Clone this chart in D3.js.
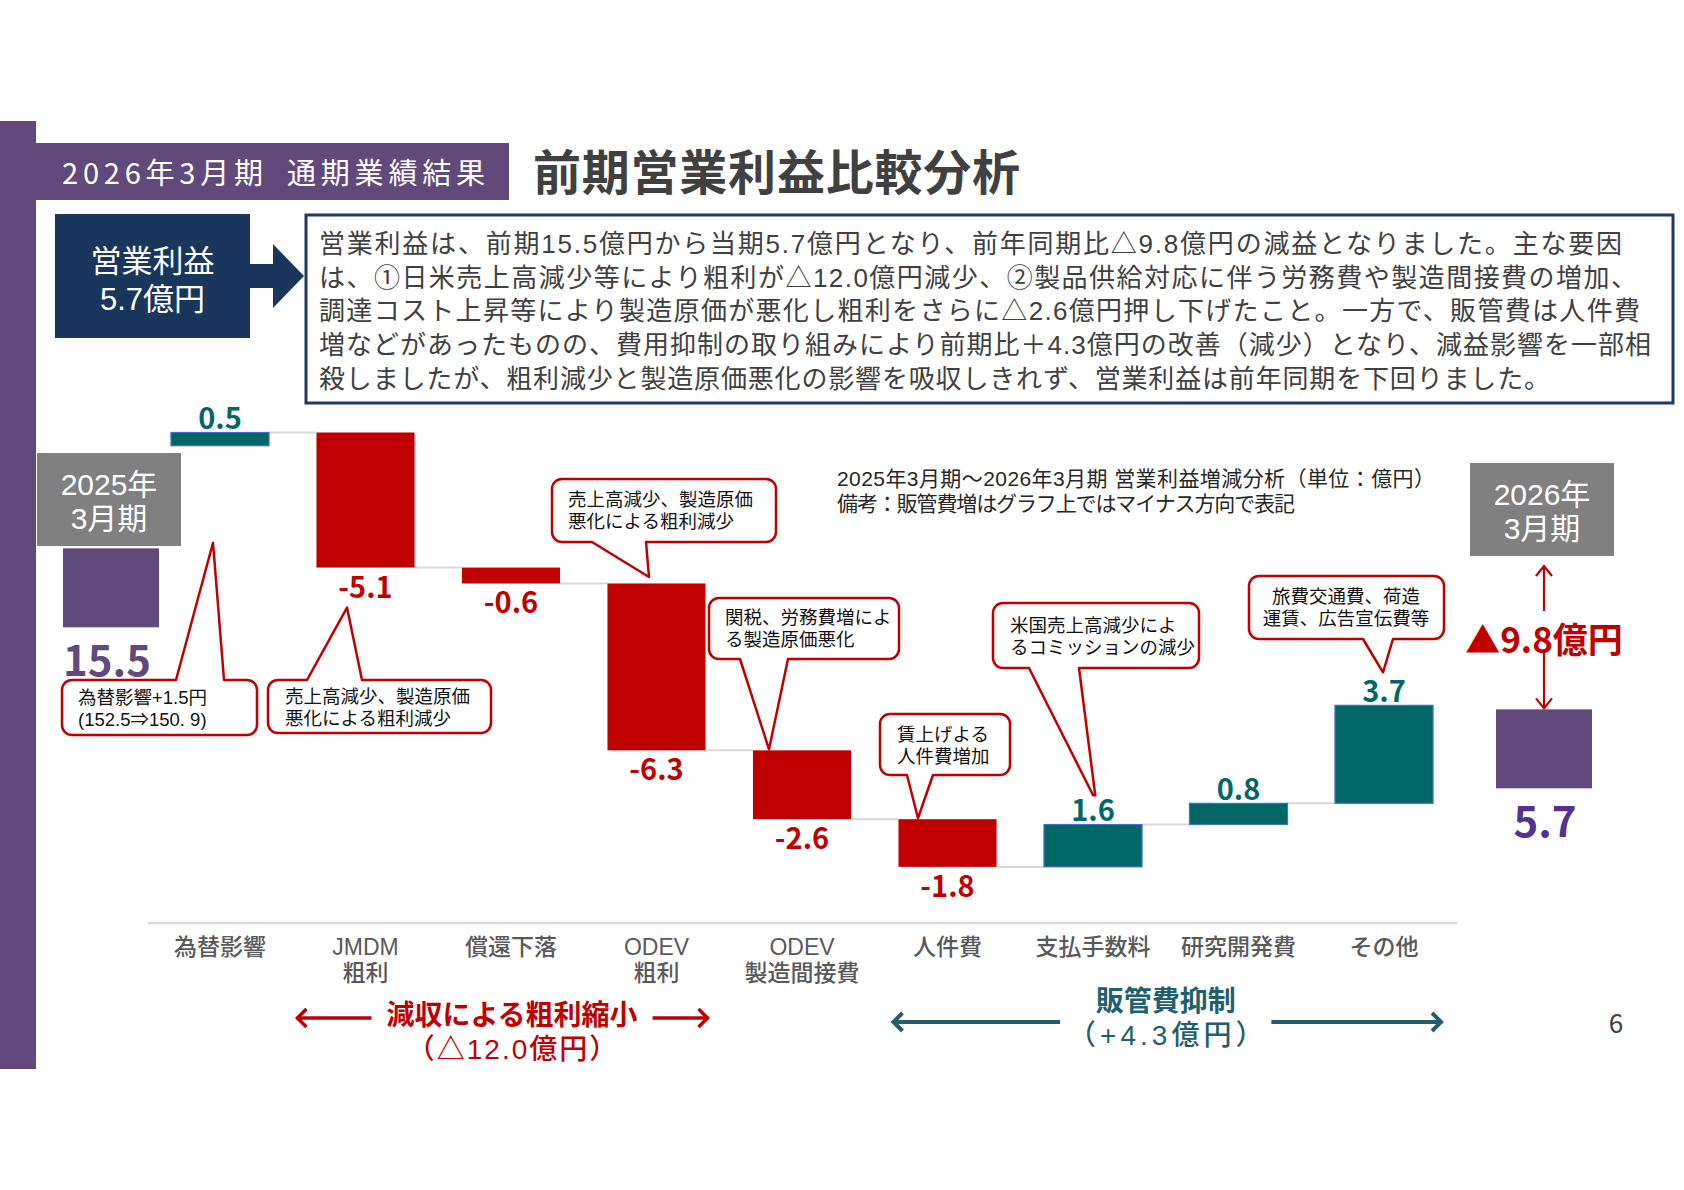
<!DOCTYPE html>
<html lang="ja"><head><meta charset="utf-8">
<script src="https://cdn.jsdelivr.net/npm/d3@7/dist/d3.min.js"></script>
<style>
html,body{margin:0;padding:0;background:#fff;}
svg{display:block;}
text{font-family:'Noto Sans CJK JP','Noto Sans',sans-serif;}
text.ml{font-family:'Liberation Sans','Noto Sans CJK JP',sans-serif;}
</style></head>
<body>
<svg id="chart" width="1684" height="1190" viewBox="0 0 1684 1190"></svg>
<script>
// ---------------- data ----------------
const categories = ["為替影響","JMDM\n粗利","償還下落","ODEV\n粗利","ODEV\n製造間接費","人件費","支払手数料","研究開発費","その他"];
const deltas = [0.5, -5.1, -0.6, -6.3, -2.6, -1.8, 1.6, 0.8, 3.7];
const grossGroup = ["JMDM\n粗利","償還下落","ODEV\n粗利"];
const sgaGroup = ["人件費","支払手数料","研究開発費","その他"];
const totalNames = ["2025年\n3月期","2026年\n3月期"];
const totalValues = [15.5, 5.7];
const headerTag = "2026年3月期\u2002通期業績結果";
const pageTitle = "前期営業利益比較分析";
const kpiLines = ["営業利益","5.7億円"];
const summaryLines = [
  "営業利益は、前期15.5億円から当期5.7億円となり、前年同期比△9.8億円の減益となりました。主な要因",
  "は、①日米売上高減少等により粗利が△12.0億円減少、②製品供給対応に伴う労務費や製造間接費の増加、",
  "調達コスト上昇等により製造原価が悪化し粗利をさらに△2.6億円押し下げたこと。一方で、販管費は人件費",
  "増などがあったものの、費用抑制の取り組みにより前期比＋4.3億円の改善（減少）となり、減益影響を一部相",
  "殺しましたが、粗利減少と製造原価悪化の影響を吸収しきれず、営業利益は前年同期を下回りました。"
];
const noteLines = ["2025年3月期～2026年3月期 営業利益増減分析（単位：億円）","備考：販管費増はグラフ上ではマイナス方向で表記"];
const calloutTexts = [
  ["為替影響+1.5円","(152.5⇒150. 9)"],
  ["売上高減少、製造原価","悪化による粗利減少"],
  ["売上高減少、製造原価","悪化による粗利減少"],
  ["関税、労務費増によ","る製造原価悪化"],
  ["賃上げよる","人件費増加"],
  ["米国売上高減少によ","るコミッションの減少"],
  ["旅費交通費、荷造","運賃、広告宣伝費等"]
];
const grossCaption = "減収による粗利縮小";
const sgaCaption = "販管費抑制";
const pageNumber = "6";

// ---------------- layout / style ----------------
const PURPLE = "#604A7B", NAVY = "#1B365D", RED = "#C00000", TEAL = "#006666",
      DTEAL = "#215F6E", GBOX = "#808080";
const fmt = d3.formatLocale({decimal:".", thousands:",", grouping:[3], currency:["",""], minus:"-"}).format(".1f");

const svg = d3.select("#chart");

// left strip + header
svg.append("rect").attr("x",0).attr("y",121).attr("width",36).attr("height",948).attr("fill",PURPLE);
svg.append("rect").attr("x",36).attr("y",143).attr("width",473).attr("height",57).attr("fill",PURPLE);
svg.append("text").attr("x",62).attr("y",184).attr("font-size",29).attr("fill","#fff")
  .attr("textLength",423).attr("lengthAdjust","spacing").text(headerTag);
svg.append("text").attr("x",533).attr("y",190).attr("font-size",48).attr("font-weight",700).attr("fill","#404040")
  .attr("textLength",487).attr("lengthAdjust","spacing").text(pageTitle);

// KPI box + arrow
svg.append("rect").attr("x",55).attr("y",214).attr("width",195).attr("height",124).attr("fill",NAVY);
svg.append("polygon").attr("points",[[250,264],[273,264],[273,244],[304,276],[273,308],[273,288],[250,288]].join(" ")).attr("fill",NAVY);
kpiLines.forEach((t,i)=>svg.append("text").attr("class","ml").attr("x",152.5).attr("y",272+i*38).attr("text-anchor","middle")
  .attr("font-size",31).attr("fill","#fff").text(t));

// summary box
svg.append("rect").attr("x",306).attr("y",215).attr("width",1367).attr("height",188)
  .attr("fill","#fff").attr("stroke","#1F3864").attr("stroke-width",3);
const sumWidths = [1303,1318,1321,1332,1231];
summaryLines.forEach((t,i)=>svg.append("text").attr("class","ml").attr("x",319).attr("y",253+i*33.7).attr("font-size",26)
  .attr("fill","#404040").attr("textLength",sumWidths[i]).attr("lengthAdjust","spacing").text(t));

// note
const noteWidths = [598,458];
noteLines.forEach((t,i)=>svg.append("text").attr("class","ml").attr("x",837).attr("y",486+i*24.5).attr("font-size",21)
  .attr("fill","#262626").attr("textLength",noteWidths[i]).attr("lengthAdjust","spacing").text(t));

// ---------------- scales ----------------
const x = d3.scaleBand().domain(categories).range([147.25,1456.75]).paddingInner(0.326).paddingOuter(0.163);
const bw = x.bandwidth();
const y = d3.scaleLinear().domain([-2.5,17]).range([922.5,406]);
// totals are drawn on a broken axis (stub bars)
const xTot = d3.scaleOrdinal().domain(totalNames).range([111,1544]);
const yTot = d3.scaleLinear().domain([0,20]).range([803,474.4]);
const totBarW = 96, totStub = 79;

let level = totalValues[0];
const steps = categories.map((c,i)=>{const from=level; level+=deltas[i]; return {cat:c, value:deltas[i], from, to:level};});

const g = svg.append("g");

// axis (baseline only) + category labels, one text per line
const axisY = y.range()[0];
const axis = d3.axisBottom(x).tickSize(0).tickFormat("");
const ag = g.append("g").attr("transform",`translate(0,${axisY})`).call(axis);
ag.select(".domain").attr("stroke","#D9D9D9").attr("stroke-width",2.5);
ag.selectAll(".tick text").remove();
const catLines = categories.flatMap(c=>c.split("\n").map((l,i)=>({cat:c, line:l, i})));
g.selectAll("text.cat").data(catLines).join("text").attr("class","cat ml")
  .attr("x",d=>x(d.cat)+bw/2).attr("y",d=>axisY+32.5+d.i*25.8)
  .attr("text-anchor","middle").attr("font-size",23).attr("font-weight",500).attr("fill","#595959")
  .text(d=>d.line);

// connectors
g.selectAll("line.conn").data(steps.slice(0,-1)).join("line")
  .attr("x1",d=>x(d.cat)+bw).attr("x2",(d,i)=>x(steps[i+1].cat))
  .attr("y1",d=>y(d.to)).attr("y2",d=>y(d.to))
  .attr("stroke","#D9D9D9").attr("stroke-width",2);

// bars
g.selectAll("rect.bar").data(steps).join("rect")
  .attr("x",d=>x(d.cat)).attr("width",bw)
  .attr("y",d=>y(Math.max(d.from,d.to))).attr("height",d=>Math.abs(y(d.from)-y(d.to)))
  .attr("fill",d=>d.value>=0?TEAL:RED)
  .attr("stroke",d=>d.value>=0?"#4472C4":"none").attr("stroke-width",1.2);

// totals
const totals = totalNames.map((n,i)=>({name:n, value:totalValues[i]}));
g.selectAll("rect.tot").data(totals).join("rect")
  .attr("x",d=>xTot(d.name)-totBarW/2).attr("width",totBarW)
  .attr("y",d=>yTot(d.value)).attr("height",totStub).attr("fill",PURPLE);
const totColors = [PURPLE,"#58308F"];
g.selectAll("text.totv").data(totals).join("text")
  .attr("x",(d,i)=>xTot(d.name)+(i?1:-4)).attr("y",d=>yTot(d.value)+totStub+49)
  .attr("text-anchor","middle").attr("font-size",42).attr("font-weight",700)
  .attr("fill",(d,i)=>totColors[i]).text(d=>fmt(d.value));
// period boxes
const boxTop = [453,463];
totals.forEach((d,i)=>{
  const cx = xTot(d.name)-2;
  g.append("rect").attr("x",cx-72).attr("y",boxTop[i]).attr("width",144).attr("height",93).attr("fill",GBOX);
  d.name.split("\n").forEach((l,j)=>g.append("text").attr("class","ml").attr("x",cx).attr("y",boxTop[i]+42+j*34)
    .attr("text-anchor","middle").attr("font-size",30).attr("fill","#fff").text(l));
});

// difference arrow
{
  const ax = xTot(totalNames[1]);
  const top = boxTop[1]+93+10, bot = yTot(totalValues[1])-1;
  const a = g.append("g").attr("stroke",RED).attr("stroke-width",2.2).attr("fill","none");
  a.append("line").attr("x1",ax).attr("x2",ax).attr("y1",top).attr("y2",top+45);
  a.append("path").attr("d",`M${ax-8},${top+10}L${ax},${top}L${ax+8},${top+10}`);
  a.append("line").attr("x1",ax).attr("x2",ax).attr("y1",bot-58).attr("y2",bot);
  a.append("path").attr("d",`M${ax-8},${bot-10}L${ax},${bot}L${ax+8},${bot-10}`);
  g.append("text").attr("x",ax).attr("y",653).attr("text-anchor","middle").attr("font-size",35)
    .attr("font-weight",700).attr("fill",RED).text("▲"+fmt(totalValues[0]-totalValues[1])+"億円");
}

// callouts
const calloutLayout = [
  {cat:0, dx:-7,  dy:97,  ref:"bottom", box:[62,680,257,735],   side:"top",    base:[176,224],  tx:78,   ty:704, anchor:"start"},
  {cat:1, dx:-18.5,dy:40, ref:"bottom", box:[268,680,491,733],  side:"top",    base:[307,362],  tx:285,  ty:703, anchor:"start"},
  {cat:3, dx:-7.5,dy:-6.5,ref:"top",    box:[552,479,776,542],  side:"bottom", base:[592,646],  tx:568,  ty:506, anchor:"start"},
  {cat:4, dx:-33, dy:-1,  ref:"top",    box:[709,598,899,659],  side:"bottom", base:[740,788],  tx:725,  ty:624, anchor:"start"},
  {cat:5, dx:-29.5,dy:-1, ref:"top",    box:[880,714,1010,775], side:"bottom", base:[907,933],  tx:897,  ty:741, anchor:"start"},
  {cat:6, dx:3,   dy:-23.5,ref:"top",   box:[993,603,1199,668], side:"bottom", base:[1029,1079],tx:1010, ty:632, anchor:"start"},
  {cat:8, dx:-1,  dy:-33, ref:"top",    box:[1249,576,1444,639],side:"bottom", base:[1363,1393],tx:1346, ty:603, anchor:"middle"}
];
function calloutPath(L, tip){
  const [x0,y0,x1,y1] = L.box, r = 10, p = d3.path();
  p.moveTo(x0+r,y0);
  if(L.side==="top"){p.lineTo(L.base[0],y0);p.lineTo(tip[0],tip[1]);p.lineTo(L.base[1],y0);}
  p.lineTo(x1-r,y0); p.arcTo(x1,y0,x1,y0+r,r);
  p.lineTo(x1,y1-r); p.arcTo(x1,y1,x1-r,y1,r);
  if(L.side==="bottom"){p.lineTo(L.base[1],y1);p.lineTo(tip[0],tip[1]);p.lineTo(L.base[0],y1);}
  p.lineTo(x0+r,y1); p.arcTo(x0,y1,x0,y1-r,r);
  p.lineTo(x0,y0+r); p.arcTo(x0,y0,x0+r,y0,r);
  p.closePath();
  return p.toString();
}
const cg = svg.append("g");
calloutLayout.forEach((L,i)=>{
  const s = steps[L.cat];
  const refY = L.ref==="top" ? y(Math.max(s.from,s.to)) : y(Math.min(s.from,s.to));
  const tip = [x(s.cat)+bw/2+L.dx, refY+L.dy];
  cg.append("path").attr("d",calloutPath(L,tip)).attr("fill","#fff").attr("stroke",RED)
    .attr("stroke-width",2.5).attr("stroke-linejoin","round");
  calloutTexts[i].forEach((t,j)=>cg.append("text").attr("class","ml").attr("x",L.tx).attr("y",L.ty+j*22)
    .attr("text-anchor",L.anchor).attr("font-size",18.5).attr("fill","#111").text(t));
});

// data labels with white backing
const lg = svg.append("g");
steps.forEach(d=>{
  const cx = x(d.cat)+bw/2;
  const pos = d.value>=0;
  const by = pos ? y(d.to)-3 : y(d.to)+30;
  const bg = lg.append("rect").attr("fill","#fff");
  const t = lg.append("text").attr("x",cx).attr("y",by).attr("text-anchor","middle")
    .attr("font-size",29).attr("font-weight",700).attr("fill",pos?TEAL:RED).text(fmt(d.value));
  const b = t.node().getBBox();
  const top = pos ? by-25 : by-24, bottom = pos ? by+2 : by+4;
  bg.attr("x",b.x-3).attr("y",top).attr("width",b.width+6).attr("height",bottom-top);
});

// group captions with arrows
function groupCaption(cats, caption, sub, subSpacing, color, sw, leftOff, rightOff, gap, centerX, y0, measureIdx){
  const left = x(cats[0])+leftOff, right = x(cats[cats.length-1])+bw+rightOff;
  const cap = svg.append("g");
  const t1 = cap.append("text").attr("class","ml").attr("x",centerX).attr("y",y0).attr("text-anchor","middle")
    .attr("font-size",28).attr("font-weight",700).attr("fill",color).text(caption);
  const t2 = cap.append("text").attr("class","ml").attr("x",centerX+subSpacing/2).attr("y",y0+34).attr("text-anchor","middle")
    .attr("font-size",28).attr("font-weight",500).attr("fill",color)
    .attr("letter-spacing",subSpacing).text(sub);
  const w = (measureIdx ? t2 : t1).node().getBBox().width, ay = measureIdx ? y0+11 : y0-7;
  const a = cap.append("g").attr("stroke",color).attr("stroke-width",sw).attr("fill","none");
  a.append("line").attr("x1",left).attr("x2",centerX-w/2-gap).attr("y1",ay).attr("y2",ay);
  a.append("line").attr("x1",centerX+w/2+gap).attr("x2",right).attr("y1",ay).attr("y2",ay);
  a.append("path").attr("d",`M${left+10},${ay-9}L${left+1},${ay}L${left+10},${ay+9}`);
  a.append("path").attr("d",`M${right-10},${ay-9}L${right-1},${ay}L${right-10},${ay+9}`);
}
{
  const sum = -d3.sum(grossGroup.map(c=>deltas[categories.indexOf(c)]));
  const cx = x("償還下落")+bw/2+1;
  groupCaption(grossGroup, grossCaption, "（△"+fmt(sum)+"億円）", 2, RED, 3.5, -20, 3, 15, cx, 1025, 0);
}
{
  const sum = d3.sum(sgaGroup.map(c=>deltas[categories.indexOf(c)]));
  const cx = (x("支払手数料")+x("研究開発費"))/2+bw/2;
  groupCaption(sgaGroup, sgaCaption, "（+"+fmt(sum)+"億円）", 4, DTEAL, 4, -6, 9, 6, cx, 1011, 1);
}

// page number
svg.append("text").attr("x",1616).attr("y",1033).attr("text-anchor","middle").attr("font-size",26)
  .attr("fill","#404040").text(pageNumber);
</script>
</body></html>
